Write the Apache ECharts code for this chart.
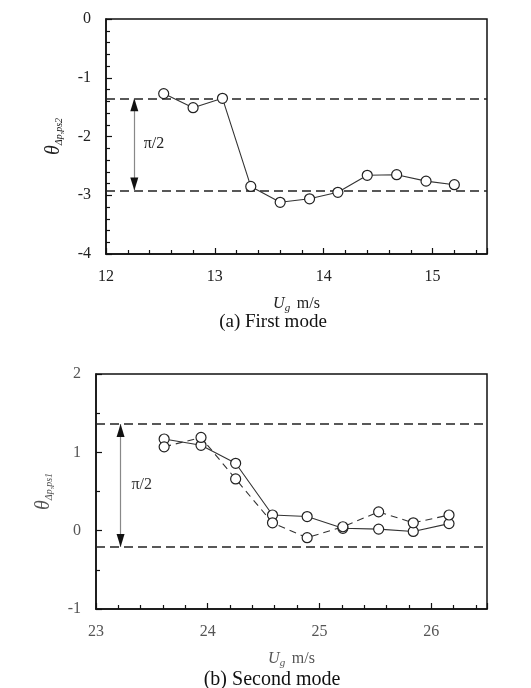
<!DOCTYPE html>
<html>
<head>
<meta charset="utf-8">
<script src="https://cdn.jsdelivr.net/npm/echarts@6/dist/echarts.min.js"></script>
<style>
html,body{margin:0;padding:0;background:#fff;}
#c{width:531px;height:688px;}
</style>
</head>
<body>
<div id="c"></div>
<script>
// ---- data (a) First mode ----
const ugA = [12.53, 12.80, 13.07, 13.33, 13.60, 13.87, 14.13, 14.40, 14.67, 14.94, 15.20];
const thetaA = [-1.27, -1.51, -1.35, -2.85, -3.12, -3.06, -2.95, -2.66, -2.65, -2.76, -2.82];
const refLinesA = [-1.35, -2.92];
const arrowXA = 12.26;
const xTicksA = [12, 13, 14, 15];
const yTicksA = [0, -1, -2, -3, -4];

// ---- data (b) Second mode ----
const ugB = [23.61, 23.94, 24.25, 24.58, 24.89, 25.21, 25.53, 25.84, 26.16];
const thetaB1 = [1.17, 1.09, 0.86, 0.20, 0.18, 0.03, 0.02, -0.01, 0.09];
const thetaB2 = [1.07, 1.19, 0.66, 0.10, -0.09, 0.05, 0.24, 0.10, 0.20];
const refLinesB = [1.362, -0.208];
const arrowXB = 23.22;
const xTicksB = [23, 24, 25, 26];
const yTicksB = [-1, 0, 1, 2];

const labelsA = {piLabel: 'π/2', caption: '(a) First mode', ySub: 'Δp,ps2'};
const labelsB = {piLabel: 'π/2', caption: '(b) Second mode', ySub: 'Δp,ps1'};

const FONT = '"Liberation Serif", "DejaVu Serif", serif';
const chart = echarts.init(document.getElementById('c'), null, {renderer: 'canvas'});

function pairs(xs, ys) { return xs.map((x, i) => [x, ys[i]]); }

function tickFormatter(list) {
  return function (v) {
    for (const t of list) { if (Math.abs(t - v) < 1e-9) return String(t); }
    return '';
  };
}

function xAxisCfg(idx, min, max, color, ticks) {
  return {
    type: 'value', gridIndex: idx, min: min, max: max, interval: 1,
    axisLine: {show: true, onZero: false, lineStyle: {color: '#111', width: 1.5}},
    axisTick: {show: true, inside: true, length: 6, lineStyle: {color: '#111', width: 1.2}},
    minorTick: {show: true, splitNumber: 5, length: 4, lineStyle: {color: '#111', width: 1.2}},
    splitLine: {show: false},
    axisLabel: {color: color, fontFamily: FONT, fontSize: 16, margin: 15, formatter: tickFormatter(ticks)},
    name: '{u|U}{s|g}  {m|m/s}', nameLocation: 'middle', nameGap: 39,
    nameTextStyle: {
      rich: {
        u: {fontFamily: FONT, fontStyle: 'italic', fontSize: 16, color: color},
        s: {fontFamily: FONT, fontStyle: 'italic', fontSize: 11, color: color, padding: [10, 0, 0, 0]},
        m: {fontFamily: FONT, fontSize: 16, color: color}
      }
    }
  };
}
function yAxisCfg(idx, min, max, minorSplit, sub, color, ticks) {
  return {
    type: 'value', gridIndex: idx, min: min, max: max, interval: 1,
    axisLine: {show: true, onZero: false, lineStyle: {color: '#111', width: 1.5}},
    axisTick: {show: true, inside: true, length: 6, lineStyle: {color: '#111', width: 1.2}},
    minorTick: {show: true, splitNumber: minorSplit, length: 4, lineStyle: {color: '#111', width: 1.2}},
    splitLine: {show: false},
    axisLabel: {color: color, fontFamily: FONT, fontSize: 16, margin: 15, formatter: tickFormatter(ticks)},
    name: '{t|θ}{s|' + sub + '}', nameLocation: 'middle', nameGap: 42, nameRotate: 90,
    nameTextStyle: {
      rich: {
        t: {fontFamily: FONT, fontStyle: 'italic', fontSize: 20, color: color},
        s: {fontFamily: FONT, fontStyle: 'italic', fontSize: 10, color: color, padding: [10, 0, 0, 0]}
      }
    }
  };
}

const circle = {symbol: 'circle', symbolSize: 10, itemStyle: {color: '#fff', borderColor: '#222', borderWidth: 1.2}};

function refLineSeries(idx, ys, ax) {
  return {
    type: 'line', xAxisIndex: idx, yAxisIndex: idx, data: [], silent: true,
    markLine: {
      silent: true, animation: false, symbol: 'none',
      label: {show: false},
      data: [
        ...ys.map(v => ({yAxis: v, lineStyle: {type: [9, 5], color: '#222', width: 1.6}})),
        [{coord: [ax, ys[0]], lineStyle: {type: 'solid', color: '#888', width: 1.2}},
         {coord: [ax, ys[1]]}]
      ]
    },
    markPoint: {
      silent: true, animation: false, label: {show: false},
      itemStyle: {color: '#111'},
      data: [
        {coord: [ax, ys[0]], symbol: 'triangle', symbolSize: [8, 13], symbolOffset: [0, 6.5]},
        {coord: [ax, ys[1]], symbol: 'triangle', symbolSize: [8, 13], symbolRotate: 180, symbolOffset: [0, -6.5]}
      ]
    }
  };
}

const option = {
  animation: false,
  backgroundColor: '#fff',
  grid: [
    {left: 106, top: 19, width: 381, height: 235, show: true, borderColor: '#111', borderWidth: 1.5, backgroundColor: 'transparent'},
    {left: 96, top: 374, width: 391, height: 235, show: true, borderColor: '#111', borderWidth: 1.5, backgroundColor: 'transparent'}
  ],
  xAxis: [xAxisCfg(0, 12, 15.5, '#222', xTicksA), xAxisCfg(1, 23, 26.5, '#555', xTicksB)],
  yAxis: [yAxisCfg(0, -4, 0, 5, labelsA.ySub, '#222', yTicksA), yAxisCfg(1, -1, 2, 2, labelsB.ySub, '#555', yTicksB)],
  series: [
    refLineSeries(0, refLinesA, arrowXA),
    refLineSeries(1, refLinesB, arrowXB),
    Object.assign({type: 'line', xAxisIndex: 0, yAxisIndex: 0, data: pairs(ugA, thetaA),
      lineStyle: {color: '#333', width: 1.1}, z: 5}, circle),
    Object.assign({type: 'line', xAxisIndex: 1, yAxisIndex: 1, data: pairs(ugB, thetaB1),
      lineStyle: {color: '#333', width: 1.1}, z: 5}, circle),
    Object.assign({type: 'line', xAxisIndex: 1, yAxisIndex: 1, data: pairs(ugB, thetaB2),
      lineStyle: {color: '#333', width: 1.1, type: [7, 5]}, z: 5}, circle)
  ]
};
chart.setOption(option);

// annotations anchored with the axes' own scales
const pA = chart.convertToPixel({gridIndex: 0}, [12.44, -2.13]);
const pB = chart.convertToPixel({gridIndex: 1}, [23.41, 0.59]);
chart.setOption({
  graphic: [
    {type: 'text', x: pA[0], y: pA[1], style: {text: labelsA.piLabel, font: '16px ' + FONT, fill: '#222', align: 'center', verticalAlign: 'middle'}},
    {type: 'text', x: pB[0], y: pB[1], style: {text: labelsB.piLabel, font: '16px ' + FONT, fill: '#333', align: 'center', verticalAlign: 'middle'}},
    {type: 'text', x: 273, y: 322, style: {text: labelsA.caption, font: '19px ' + FONT, fill: '#111', align: 'center', verticalAlign: 'middle'}},
    {type: 'text', x: 272, y: 680, style: {text: labelsB.caption, font: '20px ' + FONT, fill: '#111', align: 'center', verticalAlign: 'middle'}}
  ]
});
</script>
</body>
</html>
